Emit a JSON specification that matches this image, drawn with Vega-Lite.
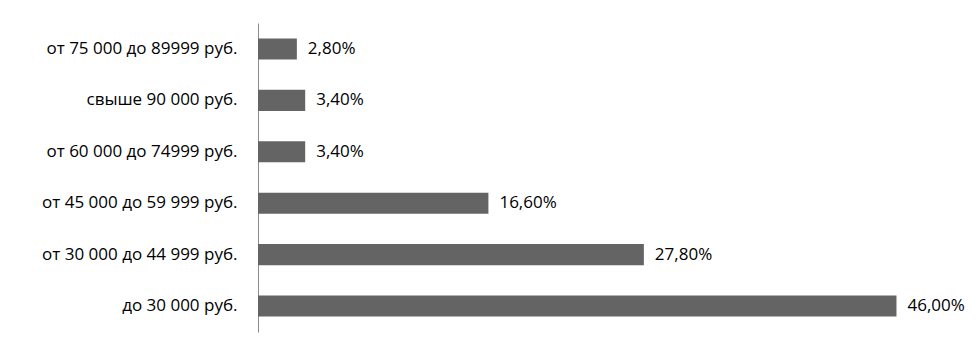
{
  "$schema": "https://vega.github.io/schema/vega-lite/v6.json",
  "autosize": "none",
  "width": 694,
  "height": 309,
  "padding": {"left": 258, "top": 23, "right": 25, "bottom": 22},
  "background": "white",
  "data": {
    "values": [
      {"category": "от 75 000 до 89999 руб.", "value": 2.8, "label": "2,80%"},
      {"category": "свыше 90 000 руб.", "value": 3.4, "label": "3,40%"},
      {"category": "от 60 000 до 74999 руб.", "value": 3.4, "label": "3,40%"},
      {"category": "от 45 000 до 59 999 руб.", "value": 16.6, "label": "16,60%"},
      {"category": "от 30 000 до 44 999 руб.", "value": 27.8, "label": "27,80%"},
      {"category": "до 30 000 руб.", "value": 46.0, "label": "46,00%"}
    ]
  },
  "encoding": {
    "y": {
      "field": "category",
      "type": "nominal",
      "sort": null,
      "scale": {"paddingInner": 0.59, "paddingOuter": 0.3},
      "axis": {
        "title": null,
        "ticks": false,
        "labelPadding": 21,
        "labelFont": "Open Sans",
        "labelFontSize": 17,
        "labelColor": "#000000",
        "labelLimit": 300,
        "domainColor": "#8c8c8c",
        "domainWidth": 1,
        "grid": false
      }
    },
    "x": {
      "field": "value",
      "type": "quantitative",
      "scale": {"domain": [0, 50], "nice": false},
      "axis": null
    }
  },
  "layer": [
    {"mark": {"type": "bar", "color": "#646464"}},
    {
      "mark": {"type": "text", "align": "left", "dx": 11, "font": "Open Sans", "fontSize": 17, "color": "#000000"},
      "encoding": {"text": {"field": "label"}}
    }
  ],
  "config": {"view": {"stroke": null}}
}
